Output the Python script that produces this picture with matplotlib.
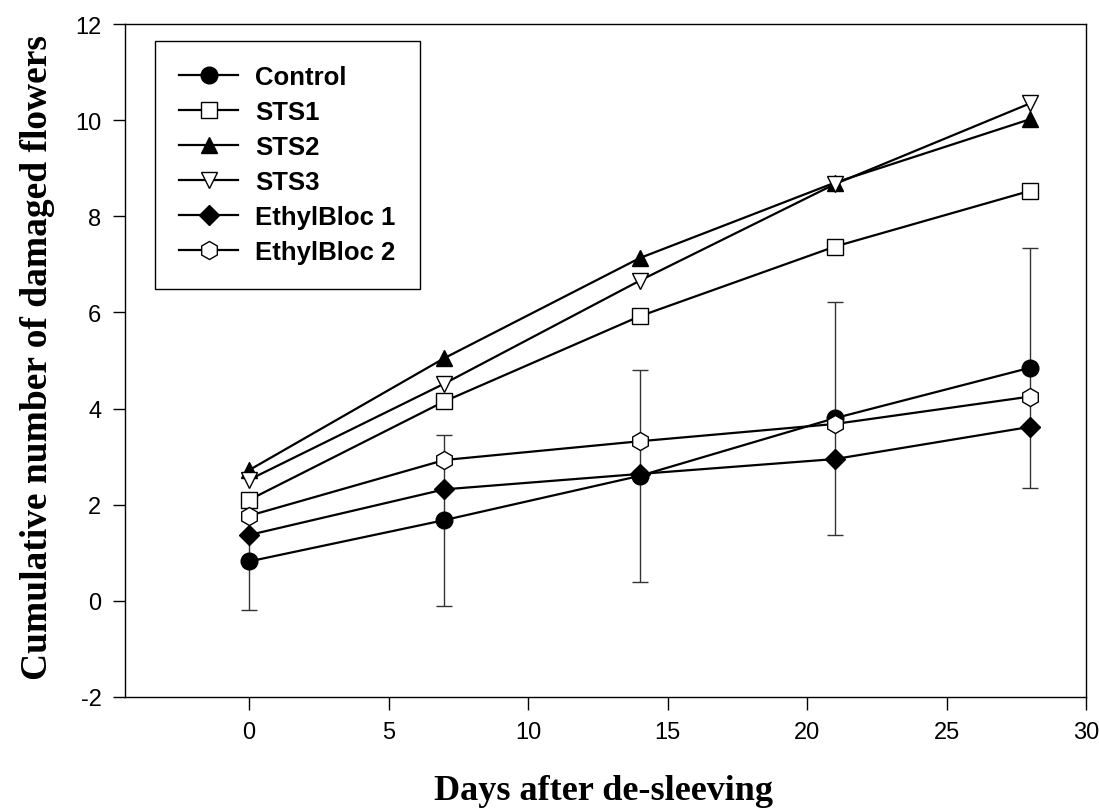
import matplotlib
matplotlib.use("Agg")
import matplotlib.pyplot as plt

plt.rcParams["axes.unicode_minus"] = False

days = [0, 7, 14, 21, 28]
control = [0.82, 1.68, 2.60, 3.80, 4.85]
control_err = [1.0, 1.78, 2.2, 2.42, 2.5]
sts1 = [2.10, 4.15, 5.92, 7.37, 8.53]
sts2 = [2.72, 5.05, 7.13, 8.70, 10.02]
sts3 = [2.52, 4.52, 6.66, 8.67, 10.35]
ethyl1 = [1.37, 2.32, 2.64, 2.95, 3.62]
ethyl2 = [1.77, 2.93, 3.32, 3.68, 4.25]
labels = ["Control", "STS1", "STS2", "STS3", "EthylBloc 1", "EthylBloc 2"]

fig = plt.figure(figsize=(10.99, 8.12), dpi=100)
ax = fig.add_axes([125/1099, 1-698/812, (1086-125)/1099, (698-25)/812])

series = [control, sts1, sts2, sts3, ethyl1, ethyl2]
markers = ["o", "s", "^", "v", "D", "h"]
faces = ["black", "white", "black", "white", "black", "white"]
sizes = [12, 11, 11, 12, 10, 13]

ax.errorbar(days, control, yerr=control_err, fmt="none", ecolor="#333333",
            elinewidth=1.0, capsize=6, capthick=1.0, zorder=1)

for s, m, fc, ms, lab in zip(series, markers, faces, sizes, labels):
    ax.plot(days, s, color="black", lw=1.6, marker=m, markersize=ms,
            markerfacecolor=fc, markeredgecolor="black", markeredgewidth=1.0,
            label=lab, zorder=3)

ax.set_xlim(-4.45, 30)
ax.set_ylim(-2, 12)
ax.set_xticks([0, 5, 10, 15, 20, 25, 30])
ax.set_yticks([-2, 0, 2, 4, 6, 8, 10, 12])
ax.tick_params(direction="out", length=9, width=1, labelsize=17, pad=8)
for lbl in ax.get_xticklabels() + ax.get_yticklabels():
    lbl.set_fontfamily("Liberation Sans")
for sp in ax.spines.values():
    sp.set_linewidth(1.0)

fig.text(604/1099, 1-792/812, "Days after de-sleeving", ha="center", va="center",
         fontsize=26, fontweight="bold", family="Liberation Serif")
fig.text(38/1099, 1-358/812, "Cumulative number of damaged flowers", ha="center",
         va="center", rotation=90, fontsize=27, fontweight="bold",
         family="Liberation Serif")

leg = ax.legend(loc="upper left", bbox_to_anchor=(0.031, 0.975), frameon=True,
                fancybox=False, edgecolor="black", framealpha=1,
                prop={"family": "Liberation Sans", "weight": "bold", "size": 18.5},
                handlelength=2.3, labelspacing=0.43, borderpad=0.95,
                handletextpad=0.65, borderaxespad=0)
leg.get_frame().set_linewidth(1.0)

fig.savefig("out.png", dpi=100)
